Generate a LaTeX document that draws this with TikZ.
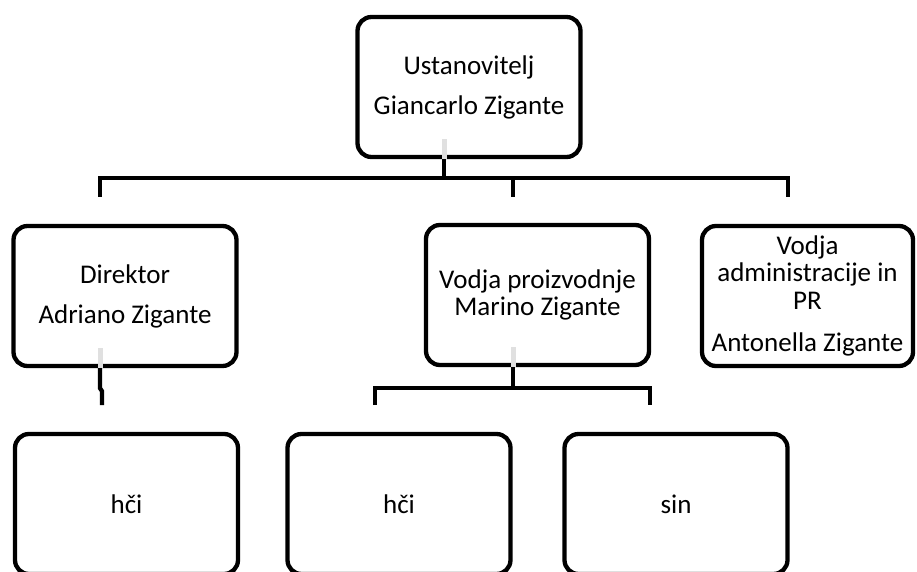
\documentclass[tikz,border=0pt]{standalone}
\usepackage{fontspec}
\setmainfont{Carlito}
\tikzset{
  orgbox/.style={draw, line width=4.3pt, rounded corners=14pt, minimum width=223pt,
    minimum height=140pt, align=center, font=\fontsize{27}{27.5}\selectfont},
  link/.style={line width=4.3pt},
  ghost/.style={line width=5pt, black!12}
}
\begin{document}
\begin{tikzpicture}[x=1pt, y=1pt]
    \clip (0,0) rectangle (917,571);

    % Boxes, top level
    \node[orgbox] (ustan) at (469,484) {Ustanovitelj\\[12.5pt]Giancarlo Zigante};

    % Boxes, second level
    \node[orgbox] (direktor) at (125,275) {Direktor\\[12.5pt]Adriano Zigante};
    \node[orgbox] (proizv) at (537.5,276) {Vodja proizvodnje\\Marino Zigante};
    \node[orgbox, minimum width=211pt] (admin) at (807.5,275) {Vodja\\administracije in\\PR\\[15pt]Antonella Zigante};

    % Boxes, third level
    \node[orgbox] (hci1) at (126.5,67) {hči};
    \node[orgbox] (hci2) at (399,67) {hči};
    \node[orgbox] (sin) at (676,67) {sin};

    % Connector points
    \coordinate (j0) at (444,393);
    \coordinate (d1) at (100,374);
    \coordinate (d2) at (513,374);
    \coordinate (d3) at (788,374);
    \coordinate (j1) at (100,166);
    \coordinate (j2) at (513,183);
    \coordinate (d4) at (375,166);
    \coordinate (d5) at (650,166);

    % Light stubs inside the boxes
    \draw[ghost] (ustan.south -| j0) -- ++(0,20);
    \draw[ghost] (direktor.south -| j1) -- ++(0,20);
    \draw[ghost] (proizv.south -| j2) -- ++(0,20);

    % Lines from the founder
    \draw[link] (ustan.south -| j0) -- (j0);
    \draw[link] (d1) |- (j0 -| d3) -- (d3);
    \draw[link] (d2) -- (d2 |- j0);

    % Line from the director
    \draw[link] (direktor.south -| j1) -- ++(0,-20) -- ++(2,-3) -- ([xshift=2pt]j1);

    % Lines from production
    \draw[link] (proizv.south -| j2) -- (j2);
    \draw[link] (d4) |- (j2 -| d5) -- (d5);
\end{tikzpicture}
\end{document}
